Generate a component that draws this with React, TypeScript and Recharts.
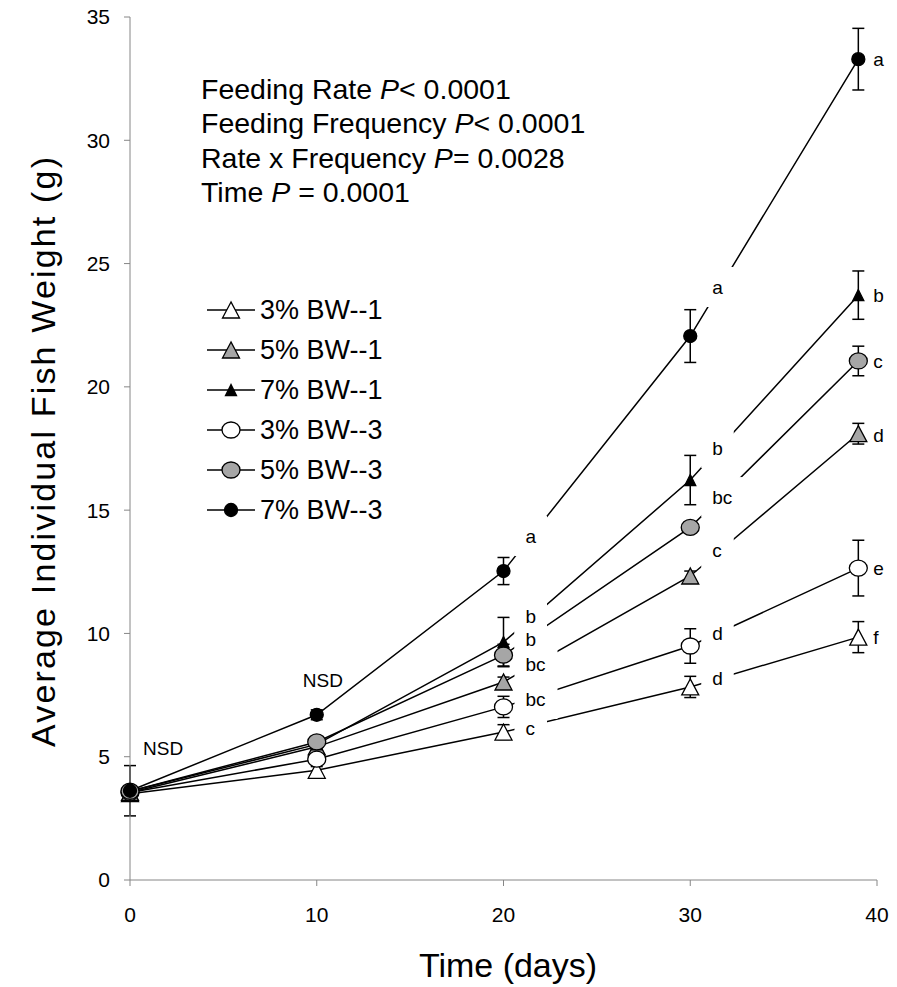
import React from 'react';
import { ComposedChart, Line, Scatter, XAxis, YAxis, ErrorBar } from 'recharts';

document.body.style.margin = '0';

// ── Data ──────────────────────────────────────────────────────────────────────

const days = [0, 10, 20, 30, 39];

const bw3x1 = [3.5, 4.45, 6.0, 7.83, 9.85];
const bw3x1Err = [0.15, 0.15, 0.3, 0.43, 0.63];
const bw5x1 = [3.55, 5.4, 8.03, 12.33, 18.1];
const bw5x1Err = [0.1, 0.15, 0.2, 0.2, 0.42];
const bw7x1 = [3.6, 5.5, 9.65, 16.22, 23.72];
const bw7x1Err = [0.1, 0.15, 1.0, 1.0, 0.98];
const bw3x3 = [3.55, 4.9, 7.02, 9.49, 12.65];
const bw3x3Err = [0.1, 0.2, 0.43, 0.7, 1.13];
const bw5x3 = [3.6, 5.6, 9.12, 14.3, 21.05];
const bw5x3Err = [0.1, 0.2, 0.44, 0.2, 0.6];
const bw7x3 = [3.62, 6.7, 12.53, 22.06, 33.29];
const bw7x3Err = [1.02, 0.2, 0.55, 1.07, 1.25];

const xTicks = [0, 10, 20, 30, 40];
const yTicks = [0, 5, 10, 15, 20, 25, 30, 35];

// significance letters, anchored at the day of the points they annotate
const sigLabels = [
  { day: 0, y: 5.35, text: 'NSD' },
  { day: 10, y: 8.1, text: 'NSD' },
  { day: 20, y: 13.95, text: 'a' },
  { day: 20, y: 10.7, text: 'b' },
  { day: 20, y: 9.77, text: 'b' },
  { day: 20, y: 8.76, text: 'bc' },
  { day: 20, y: 7.34, text: 'bc' },
  { day: 20, y: 6.16, text: 'c' },
  { day: 30, y: 24.05, text: 'a' },
  { day: 30, y: 17.52, text: 'b' },
  { day: 30, y: 15.53, text: 'bc' },
  { day: 30, y: 13.38, text: 'c' },
  { day: 30, y: 10.02, text: 'd' },
  { day: 30, y: 8.19, text: 'd' },
  { day: 39, y: 33.29, text: 'a' },
  { day: 39, y: 23.72, text: 'b' },
  { day: 39, y: 21.05, text: 'c' },
  { day: 39, y: 18.05, text: 'd' },
  { day: 39, y: 12.65, text: 'e' },
  { day: 39, y: 9.85, text: 'f' },
];

const statLines = [
  { label: 'Feeding Rate ', op: '< 0.0001' },
  { label: 'Feeding Frequency ', op: '< 0.0001' },
  { label: 'Rate x Frequency ', op: '= 0.0028' },
  { label: 'Time ', op: ' = 0.0001' },
];

type Spec = {
  key: string;
  name: string;
  shape: 'triangle' | 'circle';
  fill: string;
  size: 'big' | 'small';
  values: number[];
  err: number[];
};

const series: Spec[] = [
  { key: 'bw3x1', name: '3% BW--1', shape: 'triangle', fill: '#ffffff', size: 'big', values: bw3x1, err: bw3x1Err },
  { key: 'bw5x1', name: '5% BW--1', shape: 'triangle', fill: '#a6a6a6', size: 'big', values: bw5x1, err: bw5x1Err },
  { key: 'bw7x1', name: '7% BW--1', shape: 'triangle', fill: '#000000', size: 'small', values: bw7x1, err: bw7x1Err },
  { key: 'bw3x3', name: '3% BW--3', shape: 'circle', fill: '#ffffff', size: 'big', values: bw3x3, err: bw3x3Err },
  { key: 'bw5x3', name: '5% BW--3', shape: 'circle', fill: '#a6a6a6', size: 'big', values: bw5x3, err: bw5x3Err },
  { key: 'bw7x3', name: '7% BW--3', shape: 'circle', fill: '#000000', size: 'small', values: bw7x3, err: bw7x3Err },
];

const chartData = days.map((day, i) => {
  const row: Record<string, number> = { day };
  series.forEach((s) => {
    row[s.key] = s.values[i];
    row[`${s.key}Err`] = s.err[i];
  });
  return row;
});

// ── Helpers ───────────────────────────────────────────────────────────────────

const FONT = '"Liberation Sans", Arial, sans-serif';
const AXIS = '#868686';

function Marker({ cx, cy, shape, fill, size }: { cx: number; cy: number; shape: string; fill: string; size: string }) {
  if (cx == null || cy == null) return null;
  if (shape === 'triangle') {
    const w = size === 'big' ? 8.5 : 5.5;
    const h = size === 'big' ? 8 : 5.5;
    return (
      <polygon
        points={`${cx},${cy - h} ${cx - w},${cy + h} ${cx + w},${cy + h}`}
        fill={fill}
        stroke="#000"
        strokeWidth={1.3}
      />
    );
  }
  const rx = size === 'big' ? 9 : 6.5;
  const ry = size === 'big' ? 8 : 6.5;
  return <ellipse cx={cx} cy={cy} rx={rx} ry={ry} fill={fill} stroke="#000" strokeWidth={1.3} />;
}

function labelLeft(cx: number, day: number) {
  if (day === 39) return cx + 15;
  if (day === 0) return cx + 13;
  if (day === 10) return cx - 14;
  return cx + 22;
}

// white box behind a letter, cutting the lines like the original data labels
function SigBox(props: any) {
  const { cx, cy, payload } = props;
  if (cx == null || cy == null) return <g />;
  if (payload.day !== 20 && payload.day !== 30) return <g />;
  const left = labelLeft(cx, payload.day);
  const textW = payload.text.length * 10.5;
  return <rect x={left - 11} y={cy - 20} width={textW + 22} height={40} fill="#fff" />;
}

function SigText(props: any) {
  const { cx, cy, payload } = props;
  if (cx == null || cy == null) return <g />;
  return (
    <text x={labelLeft(cx, payload.day)} y={cy} dy="0.35em" fontFamily={FONT} fontSize={19} fill="#000">
      {payload.text}
    </text>
  );
}

// ── Chart ─────────────────────────────────────────────────────────────────────

export default function App() {
  return (
    <div style={{ position: 'relative', width: 897, height: 987, background: '#fff' }}>
      <ComposedChart
        width={897}
        height={987}
        data={chartData}
        margin={{ top: 17, right: 20, bottom: 0, left: 0 }}
      >
        <XAxis
          type="number"
          dataKey="day"
          domain={[0, 40]}
          ticks={xTicks}
          height={107}
          stroke={AXIS}
          tickSize={6}
          tickMargin={21}
          tick={{ fill: '#000', fontSize: 21, fontFamily: FONT }}
        />
        <YAxis
          type="number"
          domain={[0, 35]}
          ticks={yTicks}
          width={130}
          stroke={AXIS}
          tickSize={6}
          tickMargin={14}
          tick={{ fill: '#000', fontSize: 21, fontFamily: FONT }}
        />
        {series.map((s) => (
          <Line
            key={s.key}
            dataKey={s.key}
            type="linear"
            stroke="#000"
            strokeWidth={1.5}
            isAnimationActive={false}
            dot={(p: any) => (
              <Marker
                key={`${s.key}-${p.index}`}
                cx={p.cx}
                cy={p.cy}
                shape={s.shape}
                fill={s.fill}
                size={s.size}
              />
            )}
            activeDot={false}
          >
            <ErrorBar
              dataKey={`${s.key}Err`}
              direction="y"
              width={6}
              stroke="#000"
              strokeWidth={1.5}
              isAnimationActive={false}
            />
          </Line>
        ))}
        <Scatter data={sigLabels} dataKey="y" isAnimationActive={false} shape={SigBox} />
        <Scatter data={sigLabels} dataKey="y" isAnimationActive={false} shape={SigText} />
      </ComposedChart>

      <svg
        width={897}
        height={987}
        style={{ position: 'absolute', left: 0, top: 0, pointerEvents: 'none' }}
        fontFamily={FONT}
      >
        {statLines.map((l, i) => (
          <text key={i} x={201} y={89 + i * 34.5} dy="0.35em" fontSize={28.5} fill="#000">
            {l.label}
            <tspan fontStyle="italic">P</tspan>
            {l.op}
          </text>
        ))}

        {series.map((s, i) => {
          const y = 310 + i * 40;
          return (
            <g key={s.key}>
              <line x1={207} x2={255} y1={y} y2={y} stroke="#000" strokeWidth={1.5} />
              <Marker cx={231} cy={y} shape={s.shape} fill={s.fill} size={s.size} />
              <text x={260} y={y} dy="0.35em" fontSize={27} fill="#000">
                {s.name}
              </text>
            </g>
          );
        })}

        <text x={508} y={965} dy="0.35em" textAnchor="middle" fontSize={34} fill="#000">
          Time (days)
        </text>
        <text
          x={0}
          y={0}
          transform="translate(43 452) rotate(-90)"
          dy="0.35em"
          textAnchor="middle"
          fontSize={34}
          textLength={590}
          lengthAdjust="spacing"
          fill="#000"
        >
          Average Individual Fish Weight (g)
        </text>
      </svg>
    </div>
  );
}
